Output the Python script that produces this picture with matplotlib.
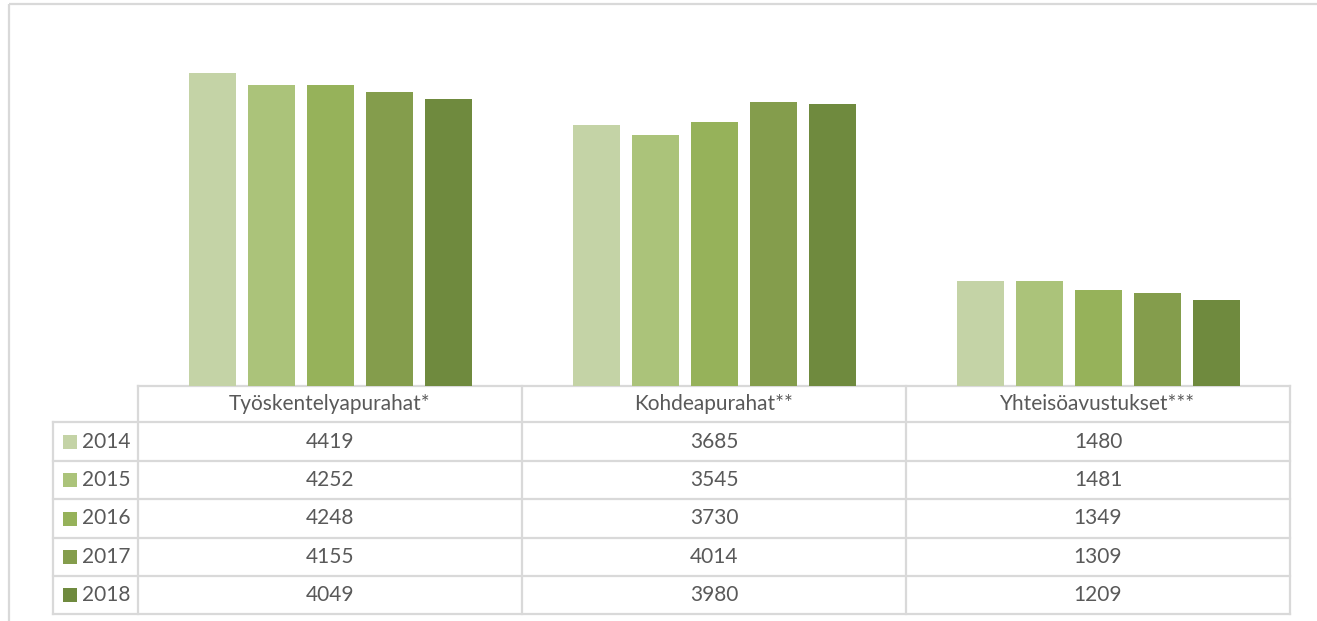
import matplotlib
matplotlib.use("Agg")
import matplotlib.pyplot as plt
from matplotlib.patches import Rectangle
import numpy as np

categories = ["Työskentelyapurahat*", "Kohdeapurahat**", "Yhteisöavustukset***"]
years = ["2014", "2015", "2016", "2017", "2018"]
values = {
    "2014": [4419, 3685, 1480],
    "2015": [4252, 3545, 1481],
    "2016": [4248, 3730, 1349],
    "2017": [4155, 4014, 1309],
    "2018": [4049, 3980, 1209],
}
colors = ["#C4D3A6", "#ABC37A", "#96B25A", "#849D4C", "#6F8A3E"]

W, H = 1317, 621
fig = plt.figure(figsize=(W / 100, H / 100), dpi=100)
fig.patch.set_facecolor("white")

# pixel geometry
px_left, px_right = 138, 1290
px_base, px_top = 386, 32
lbl_left = 53
row_edges = [386, 422, 461, 499, 538, 576, 614]

# overlay axes in pixel coordinates for frame and table
ov = fig.add_axes([0, 0, 1, 1])
ov.set_xlim(0, W)
ov.set_ylim(H, 0)
ov.axis("off")

grid_c = "#D9D9D9"
lw = 1.6
# outer frame of chart area
ov.plot([9, W + 5], [4, 4], color=grid_c, lw=lw, solid_capstyle="butt")
ov.plot([9, 9], [4, H + 5], color=grid_c, lw=lw, solid_capstyle="butt")

# bar axes
ax = fig.add_axes([px_left / W, (H - px_base) / H, (px_right - px_left) / W,
                   (px_base - px_top) / H])
ax.set_xlim(-0.5, len(categories) - 0.5)
ax.set_ylim(0, 5000)
ax.axis("off")
x = np.arange(len(categories))
step = 59 / 384
bw = 47 / 384
for j, y in enumerate(years):
    ax.bar(x + (j - 2) * step, values[y], width=bw, color=colors[j], edgecolor="none")

# table
ncol = len(categories)
colw = (px_right - px_left) / ncol
col_edges = [px_left + k * colw for k in range(ncol + 1)]
# horizontal lines
ov.plot([px_left, px_right], [row_edges[0]] * 2, color=grid_c, lw=lw)
for yy in row_edges[1:]:
    ov.plot([lbl_left, px_right], [yy] * 2, color=grid_c, lw=lw)
# vertical lines
for xx in col_edges:
    ov.plot([xx, xx], [row_edges[0], row_edges[-1]], color=grid_c, lw=lw)
ov.plot([lbl_left, lbl_left], [row_edges[1], row_edges[-1]], color=grid_c, lw=lw)

txt_c = "#595959"
fs = 15
font = "Lato"
for k, c in enumerate(categories):
    cx = (col_edges[k] + col_edges[k + 1]) / 2
    cy = (row_edges[0] + row_edges[1]) / 2
    ov.text(cx, cy, c, ha="center", va="center", fontsize=fs, color=txt_c, family=font)
for j, y in enumerate(years):
    cy = (row_edges[j + 1] + row_edges[j + 2]) / 2
    ov.add_patch(Rectangle((63, cy - 7), 14, 14, facecolor=colors[j], edgecolor="none"))
    ov.text(82, cy, y, ha="left", va="center", fontsize=fs, color=txt_c, family=font)
    for k in range(ncol):
        cx = (col_edges[k] + col_edges[k + 1]) / 2
        ov.text(cx, cy, str(values[y][k]), ha="center", va="center", fontsize=fs,
                color=txt_c, family=font)

fig.savefig("out.png", dpi=100, facecolor="white")
